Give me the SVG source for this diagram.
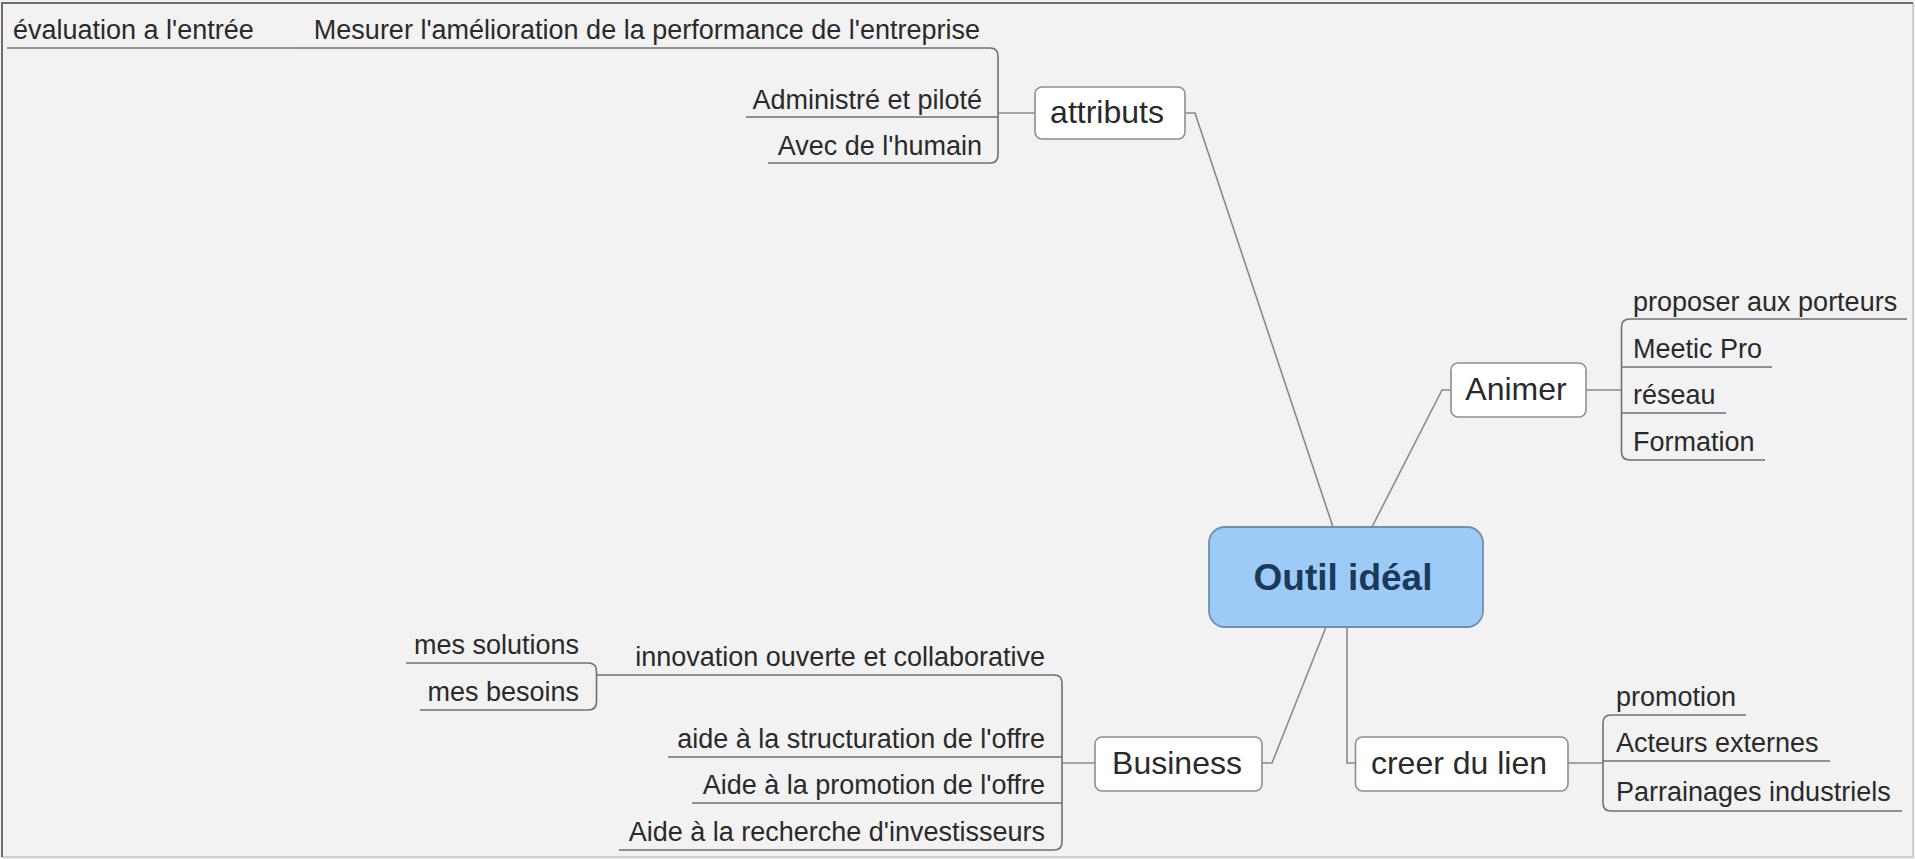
<svg xmlns="http://www.w3.org/2000/svg" width="1915" height="859" viewBox="0 0 1915 859">
<style>
.bg{fill:#f2f2f2}
.frameD{stroke:#6e6e6e;stroke-width:2;fill:none}
.frameL{stroke:#cfcfcf;stroke-width:2;fill:none}
.conn{stroke:#8a8a8a;stroke-width:1.6;fill:none}
.ul{stroke:#707070;stroke-width:1.6;fill:none}
.box{fill:#ffffff;stroke:#8e8e8e;stroke-width:1.6}
.root{fill:#9dcbf8;stroke:#6f8fae;stroke-width:1.8}
.t{font-family:"Liberation Sans",Arial,sans-serif;font-size:27px;fill:#2a2a2a}
.tn{font-family:"Liberation Sans",Arial,sans-serif;font-size:32px;fill:#2a2a2a;text-anchor:middle}
.tr{font-family:"Liberation Sans",Arial,sans-serif;font-size:37px;font-weight:bold;fill:#1b3a5a;text-anchor:middle}
.e{text-anchor:end}
</style>
<rect class="bg" x="0" y="0" width="1915" height="859"/>
<path class="frameL" d="M1913 3 V857 H2"/>
<path class="frameD" d="M2 857 V3 H1913"/>

<g id="connectors">
<path class="conn" d="M1185 113 H1195 L1333 527"/>
<path class="conn" d="M1372 527 L1442 390 H1451"/>
<path class="conn" d="M1326 627 L1272 763 H1262"/>
<path class="conn" d="M1347 627 V763 H1355.5"/>
<path class="conn" d="M998 113 H1035"/>
<path class="conn" d="M1586 390 H1621.5"/>
<path class="conn" d="M1568 763 H1603"/>
<path class="conn" d="M1062 763 H1095"/>
</g>

<g id="root">
<rect class="root" x="1209" y="527" width="274" height="100" rx="16"/>
<text class="tr" x="1343" y="590">Outil idéal</text>
</g>

<g id="attributs">
<rect class="box" x="1035" y="87" width="150" height="52" rx="7"/>
<text class="tn" x="1107" y="123">attributs</text>
</g>
<g id="attributs-children">
<path class="ul" d="M300 48 H990 Q998 48 998 56 V155 Q998 163 990 163 H768"/>
<path class="ul" d="M746 117 H998"/>
<text class="t e" x="980" y="39">Mesurer l'amélioration de la performance de l'entreprise</text>
<text class="t e" x="982" y="109">Administré et piloté</text>
<text class="t e" x="982" y="155">Avec de l'humain</text>
</g>
<g id="evaluation">
<path class="ul" d="M7 48 H300"/>
<text class="t" x="13" y="39">évaluation a l'entrée</text>
</g>

<g id="animer">
<rect class="box" x="1451" y="363" width="135" height="54" rx="7"/>
<text class="tn" x="1516" y="400">Animer</text>
</g>
<g id="animer-children">
<path class="ul" d="M1907 319 H1630 Q1621.5 319 1621.5 327 V452 Q1621.5 460 1630 460 H1765"/>
<path class="ul" d="M1621.5 367 H1772"/>
<path class="ul" d="M1621.5 413 H1726"/>
<text class="t" x="1633" y="311">proposer aux porteurs</text>
<text class="t" x="1633" y="358">Meetic Pro</text>
<text class="t" x="1633" y="404">réseau</text>
<text class="t" x="1633" y="451">Formation</text>
</g>

<g id="creer">
<rect class="box" x="1355.5" y="737" width="212.5" height="54" rx="7"/>
<text class="tn" x="1459" y="774">creer du lien</text>
</g>
<g id="creer-children">
<path class="ul" d="M1746 715 H1611 Q1603 715 1603 723 V803 Q1603 811 1611 811 H1902"/>
<path class="ul" d="M1603 761 H1830"/>
<text class="t" x="1616" y="706">promotion</text>
<text class="t" x="1616" y="752">Acteurs externes</text>
<text class="t" x="1616" y="801">Parrainages industriels</text>
</g>

<g id="business">
<rect class="box" x="1095" y="737" width="167" height="54" rx="7"/>
<text class="tn" x="1177" y="774">Business</text>
</g>
<g id="business-children">
<path class="ul" d="M596.5 675 H1054 Q1062 675 1062 683 V842 Q1062 850 1054 850 H619"/>
<path class="ul" d="M668 757 H1062"/>
<path class="ul" d="M692 803 H1062"/>
<text class="t e" x="1045" y="666">innovation ouverte et collaborative</text>
<text class="t e" x="1045" y="748">aide à la structuration de l'offre</text>
<text class="t e" x="1045" y="794">Aide à la promotion de l'offre</text>
<text class="t e" x="1045" y="841">Aide à la recherche d'investisseurs</text>
</g>
<g id="innovation-children">
<path class="ul" d="M406 663 H588 Q596.5 663 596.5 671 V702 Q596.5 710 588 710 H420"/>
<text class="t e" x="579" y="654">mes solutions</text>
<text class="t e" x="579" y="701">mes besoins</text>
</g>
</svg>
